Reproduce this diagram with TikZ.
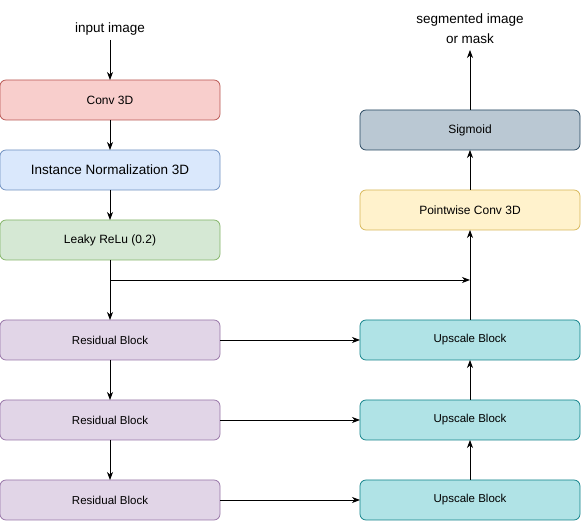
\documentclass[tikz,border=0pt]{standalone}
\usepackage{fontspec}
\setmainfont{Liberation Sans}
\usepackage{xcolor}
\usepackage{tikz}
\usetikzlibrary{
    shapes,
    positioning,
    arrows.meta
}
\definecolor{convfill}{HTML}{F8CECC}
\definecolor{convdraw}{HTML}{B85450}
\definecolor{normfill}{HTML}{DAE8FC}
\definecolor{normdraw}{HTML}{6C8EBF}
\definecolor{relufill}{HTML}{D5E8D4}
\definecolor{reludraw}{HTML}{82B366}
\definecolor{resfill}{HTML}{E1D5E7}
\definecolor{resdraw}{HTML}{9673A6}
\definecolor{pwfill}{HTML}{FFF2CC}
\definecolor{pwdraw}{HTML}{D6B656}
\definecolor{sigfill}{HTML}{BAC8D3}
\definecolor{sigdraw}{HTML}{23445D}
\definecolor{upfill}{HTML}{B0E3E6}
\definecolor{updraw}{HTML}{0E8088}
\tikzset{block/.style={
    draw,
    line width=0.75pt,
    outer sep=0pt,
    minimum height=40pt,
    minimum width=220pt,
    rounded corners=6pt,
    font=\fontsize{12}{14}\selectfont,
}}
\tikzset{conv/.style={block, fill=convfill, draw=convdraw}}
\tikzset{norm/.style={block, fill=normfill, draw=normdraw,
    font=\fontsize{13.5}{16}\selectfont}}
\tikzset{relu/.style={block, fill=relufill, draw=reludraw}}
\tikzset{residual/.style={block, fill=resfill, draw=resdraw,
    font=\fontsize{11.5}{14}\selectfont}}
\tikzset{pointwise/.style={block, fill=pwfill, draw=pwdraw}}
\tikzset{sigmoid/.style={block, fill=sigfill, draw=sigdraw}}
\tikzset{upscale/.style={block, fill=upfill, draw=updraw,
    font=\fontsize{11.5}{14}\selectfont}}
\tikzset{caption/.style={
    draw=none,
    align=center,
    inner sep=5pt,
    outer sep=0pt,
    font=\fontsize{13.5}{20}\selectfont,
}}
\tikzset{arrow/.style={
    ->,>={Stealth[length=8pt,width=6pt,inset=2.5pt]},
    line width=0.75pt,
}}

\begin{document}
\begin{tikzpicture}[
                x=1pt,y=1pt,
                align=center
        ]
            \useasboundingbox (0,0) rectangle (581,521);
            \node[conv] (conv) at (110,421) {Conv 3D};
            \node[norm, below=30pt of conv] (norm) {Instance Normalization 3D};
            \node[relu, below=30pt of norm] (relu) {Leaky ReLu (0.2)};

            \node[residual, below=60pt of relu] (res1) {Residual Block};
            \node[residual, below=40pt of res1] (res2) {Residual Block};
            \node[residual, below=40pt of res2] (res3) {Residual Block};

            \node[upscale, right=140pt of res1] (up1) {Upscale Block};
            \node[upscale, right=140pt of res2] (up2) {Upscale Block};
            \node[upscale, right=140pt of res3] (up3) {Upscale Block};

            \node[pointwise, above=90pt of up1] (pw) {Pointwise Conv 3D};
            \node[sigmoid, above=40pt of pw] (sig) {Sigmoid};

            \node[caption, above=40pt of conv] (input) {input image};
            \node[caption, inner sep=6.5pt, above=60pt of sig] (output) {segmented image\\or mask};
            \coordinate[below=20pt of relu] (split);

            \draw[arrow] (input) -- (conv);
            \draw[arrow] (conv) -- (norm);
            \draw[arrow] (norm) -- (relu);
            \draw[arrow] (relu) -- (res1);
            \draw[arrow] (res1) -- (res2);
            \draw[arrow] (res2) -- (res3);
            \draw[arrow] (split) -- (split -| up1);
            \foreach \i in {1,2,3}
                \draw[arrow] (res\i) -- (up\i);
            \draw[arrow] (up3) -- (up2);
            \draw[arrow] (up2) -- (up1);
            \draw[arrow] (up1) -- (pw);
            \draw[arrow] (pw) -- (sig);
            \draw[arrow] (sig) -- (output);

        \end{tikzpicture}
\end{document}
